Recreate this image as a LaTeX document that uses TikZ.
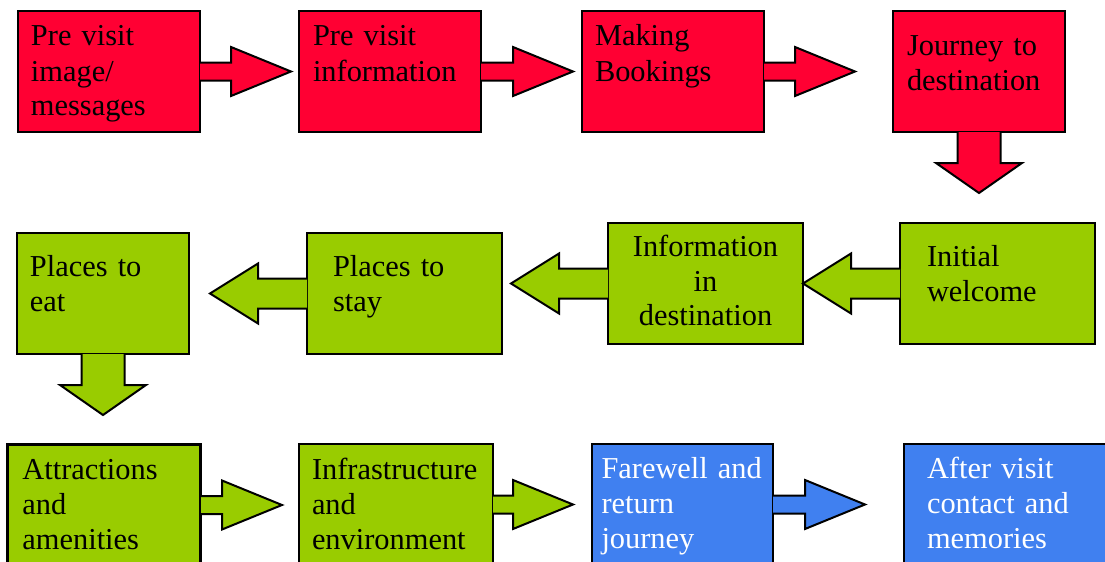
\documentclass[tikz,border=0pt]{standalone}
\usepackage{fontspec}
\setmainfont{Liberation Serif}
\definecolor{redfill}{HTML}{FF0033}
\definecolor{greenfill}{HTML}{99CC00}
\definecolor{bluefill}{HTML}{4080F0}
\hyphenpenalty=10000
\begin{document}
\begin{tikzpicture}[x=0.5pt,y=-0.5pt,
    box/.style={draw=black,line width=1pt,anchor=north west,inner ysep=0pt,align=left,
        font=\fontsize{15.2pt}{17.5pt}\selectfont},
    highline/.style={text height=17.5pt,text depth=43pt},
    lowline/.style={text height=21.5pt,text depth=39pt},
    blockarrow/.style={draw=black,line width=1pt,line join=miter}]
\clip (0,0) rectangle (1105,562);
% Before the visit
    \node[box,fill=redfill,highline,text width=78pt,inner xsep=6.5pt] (pvimage) at (17,10) {Pre visit\\image/\\messages};
    \node[box,fill=redfill,highline,text width=77pt,inner xsep=7pt] (pvinfo) at (298,10) {Pre visit\\information};
    \node[box,fill=redfill,highline,text width=78pt,inner xsep=6.5pt] (booking) at (581,10) {Making\\Bookings};
    \node[box,fill=redfill,text height=22pt,text depth=38.5pt,text width=72pt,inner xsep=7pt] (journey) at (892,10) {Journey to\\destination};
% At the destination
    \node[box,fill=greenfill,lowline,text width=70.5pt,inner xsep=13.5pt] (welcome) at (899,222) {Initial\\welcome};
    \node[box,fill=greenfill,text height=16.5pt,text depth=44pt,text width=87.5pt,inner xsep=5pt,align=center] (info) at (607,222) {Information\\in\\destination};
    \node[box,fill=greenfill,lowline,text width=71.5pt,inner xsep=13pt] (stay) at (306,232) {Places to\\stay};
    \node[box,fill=greenfill,lowline,text width=73pt,inner xsep=6.5pt] (eat) at (16,232) {Places to\\eat};
    \node[box,fill=greenfill,highline,text width=81.5pt,inner xsep=7.5pt,line width=1.5pt] (attract) at (6,443) {Attractions\\and\\amenities};
    \node[box,fill=greenfill,highline,text width=84pt,inner xsep=6.5pt] (infra) at (298,443) {Infrastructure\\and\\environment};
% After the visit
    \node[box,fill=bluefill,text=white,text height=17pt,text depth=43.5pt,text width=81pt,inner xsep=4.75pt] (farewell) at (591,443) {Farewell and\\return\\journey};
    \node[box,fill=bluefill,text=white,text height=17pt,text depth=43.5pt,text width=82pt,inner xsep=11.5pt] (after) at (903,443) {After visit\\contact and\\memories};
% Arrows
    \foreach \n/\l/\c in {pvimage/30/redfill,pvinfo/31/redfill,booking/30/redfill,attract/20/greenfill,infra/19/greenfill,farewell/31/bluefill}{
        \filldraw[blockarrow,fill=\c,shift={(\n.east)}] (-1,-9) -- (\l,-9) -- (\l,-24.5) -- (\l+60,0) -- (\l,24.5) -- (\l,9) -- (-1,9);
    }
    \foreach \n in {welcome,info,stay}{
        \filldraw[blockarrow,fill=greenfill,shift={(\n.west)}] (1,-15) -- (-48,-15) -- (-48,-30) -- (-96,0) -- (-48,30) -- (-48,15) -- (1,15);
    }
    \foreach \n/\c in {journey/redfill,eat/greenfill}{
        \filldraw[blockarrow,fill=\c,shift={(\n.south)}] (-21.5,-1) -- (-21.5,30) -- (-43,30) -- (0,60) -- (43,30) -- (21.5,30) -- (21.5,-1);
    }
\end{tikzpicture}
\end{document}
